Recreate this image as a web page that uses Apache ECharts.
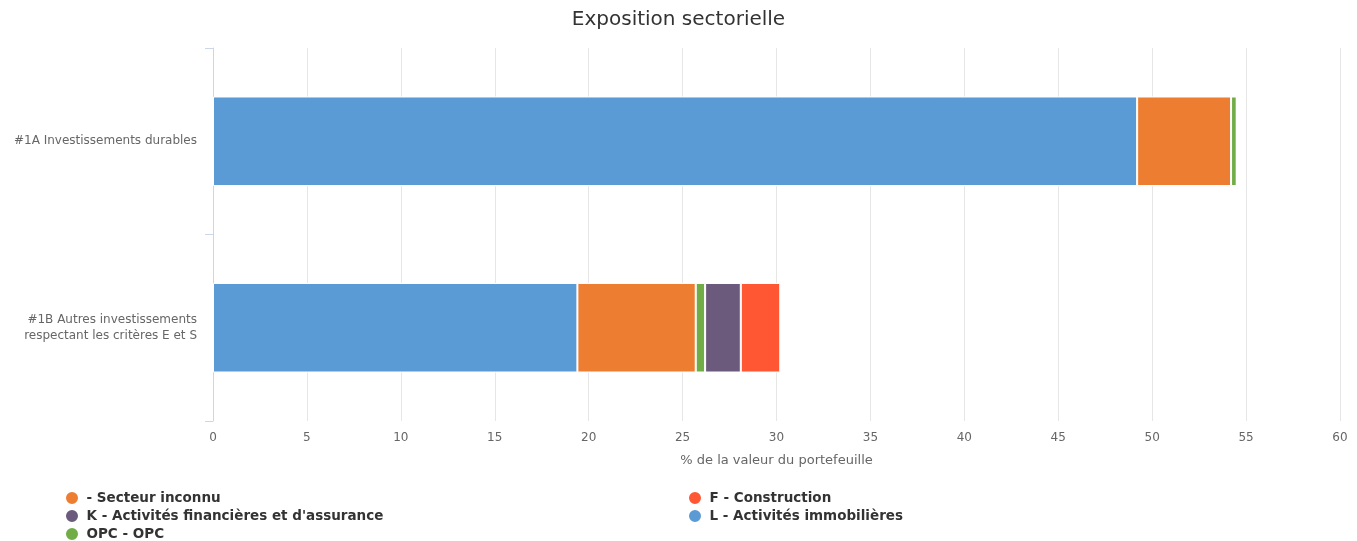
<!DOCTYPE html>
<html>
<head>
<meta charset="utf-8">
<script src="https://cdn.jsdelivr.net/npm/echarts@6/dist/echarts.min.js"></script>
<style>html,body{margin:0;padding:0;background:#fff}#c{width:1357px;height:541px}</style>
</head>
<body>
<div id="c"></div>
<script>
const categories = ['#1A Investissements durables', '#1B Autres investissements\nrespectant les critères E et S'];
const xTicks = { min: 0, max: 60, interval: 5 };
const seriesNames = ['L - Activités immobilières', '- Secteur inconnu', 'OPC - OPC', 'K - Activités financières et d\'assurance', 'F - Construction'];
const seriesColors = ['#5b9bd5', '#ed7d31', '#70ad47', '#6b5a7b', '#ff5733'];
const valuesL = [49.2, 19.4];
const valuesInconnu = [5.0, 6.3];
const valuesOPC = [0.3, 0.5];
const valuesK = [0, 1.9];
const valuesF = [0, 2.1];
const allValues = [valuesL, valuesInconnu, valuesOPC, valuesK, valuesF];
const legendLeft = ['- Secteur inconnu', 'K - Activités financières et d\'assurance', 'OPC - OPC'];
const legendRight = ['F - Construction', 'L - Activités immobilières'];

const font = 'DejaVu Sans, sans-serif';
const chart = echarts.init(document.getElementById('c'));
const legendStyle = {
  orient: 'vertical', top: 490, height: 60, itemGap: 2, itemWidth: 15, itemHeight: 14, icon: 'circle',
  padding: 0,
  textStyle: { fontFamily: font, fontSize: 13.5, fontWeight: 'bold', color: '#333', lineHeight: 13, padding: [0, 0, 0, 2] }
};
chart.setOption({
  animation: false,
  title: { text: 'Exposition sectorielle', left: 'center', top: 5,
    textStyle: { fontFamily: font, fontSize: 20, fontWeight: 'normal', color: '#333' } },
  legend: [
    Object.assign({ left: 64, data: legendLeft }, legendStyle),
    Object.assign({ left: 687, data: legendRight }, legendStyle)
  ],
  grid: { left: 213, right: 17, top: 48, bottom: 120, containLabel: false },
  xAxis: {
    type: 'value', min: xTicks.min, max: xTicks.max, interval: xTicks.interval,
    name: '% de la valeur du portefeuille', nameLocation: 'middle', nameGap: 33,
    nameTextStyle: { fontFamily: font, fontSize: 13, color: '#666' },
    axisLine: { show: false }, axisTick: { show: false },
    axisLabel: { fontFamily: font, fontSize: 12, color: '#666', margin: 11 },
    splitLine: { lineStyle: { color: '#e6e6e6' } }
  },
  yAxis: {
    type: 'category', data: categories, inverse: true,
    axisLine: { show: true, lineStyle: { color: '#ccd6eb' } },
    axisTick: { show: true, length: 8, lineStyle: { color: '#ccd6eb' } },
    axisLabel: { fontFamily: font, fontSize: 12, color: '#666', margin: 16, lineHeight: 16, align: 'right' }
  },
  series: seriesNames.map((n, i) => ({
    name: n, type: 'bar', stack: 'total', barWidth: '48%',
    data: allValues[i],
    itemStyle: { color: seriesColors[i], borderColor: '#fff', borderWidth: 1 }
  }))
});
</script>
</body>
</html>
